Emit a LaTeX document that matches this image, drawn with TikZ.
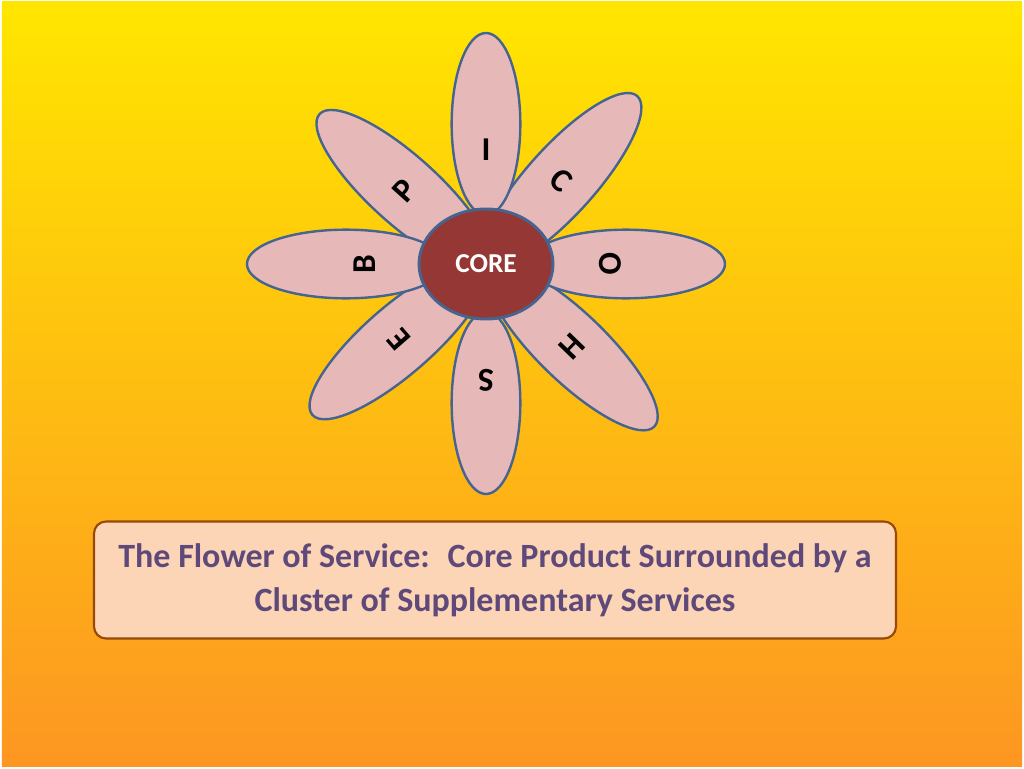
\documentclass[tikz,border=0pt]{standalone}
\usepackage{fontspec}
\setmainfont{Carlito}
\usetikzlibrary{shapes.geometric}
\definecolor{bgtop}{HTML}{FFE600}
\definecolor{bgbottom}{HTML}{FD9622}
\definecolor{petalpink}{HTML}{E6B9B8}
\definecolor{petalline}{HTML}{46648F}
\definecolor{corered}{HTML}{953735}
\definecolor{boxpeach}{HTML}{FBD5B5}
\definecolor{boxbrown}{HTML}{984807}
\definecolor{captionpurple}{HTML}{5F497A}

\begin{document}
\begin{tikzpicture}[x=0.75pt,y=0.75pt,
  petal/.style={ellipse, draw=petalline, fill=petalpink, line width=1.8pt,
    inner sep=0, minimum height=51.5pt},
  letter/.style={font=\fontsize{25}{25}\selectfont\bfseries, inner sep=0},
  core/.style={ellipse, draw=petalline, fill=corered, line width=2.2pt,
    minimum width=100.5pt, minimum height=82.5pt, text=white,
    font=\fontsize{20.5}{20.5}\selectfont\bfseries},
  caption/.style={draw=boxbrown, fill=boxpeach, line width=1.6pt, rounded corners=9pt,
    minimum width=601.5pt, minimum height=87.75pt, align=center, text=captionpurple,
    font=\fontsize{25.5}{33}\selectfont\bfseries}]
% background
\useasboundingbox (-486,-504) rectangle (538,264);
\fill[white] (-486,-504) rectangle (538,264);
\shade[top color=bgtop, bottom color=bgbottom] (-484,-502) rectangle (536,262);
% petals: long diagonal ones below, short straight ones on top
\foreach \ang/\tip/\half in {138/224/114, 221/230/114, -44/234/114, 48/226/114,
    270/230/91, 180/239/99, 0/239/99, 90/231/91}{
  \pgfmathsetmacro\plen{1.5*\half}
  \node[petal, minimum width=\plen pt, rotate=\ang] (petal\ang) at (\ang:\tip-\half) {};
}
% letters
\foreach \ang/\dist/\ltr in {90/114/I, 48/112/C, 0/124/O, -44/119/H, 270/116/S, 221/115/E, 180/121/B, 138/110/P}{
  \node[letter, rotate=\ang-90] (letter\ltr) at (\ang:\dist) {\ltr};
}
\node[core] (core) at (0,0) {CORE};
\node[caption] (caption) at (9,-316) {The Flower of Service:~ Core Product Surrounded by a\\Cluster of Supplementary Services};
\end{tikzpicture}
\end{document}
